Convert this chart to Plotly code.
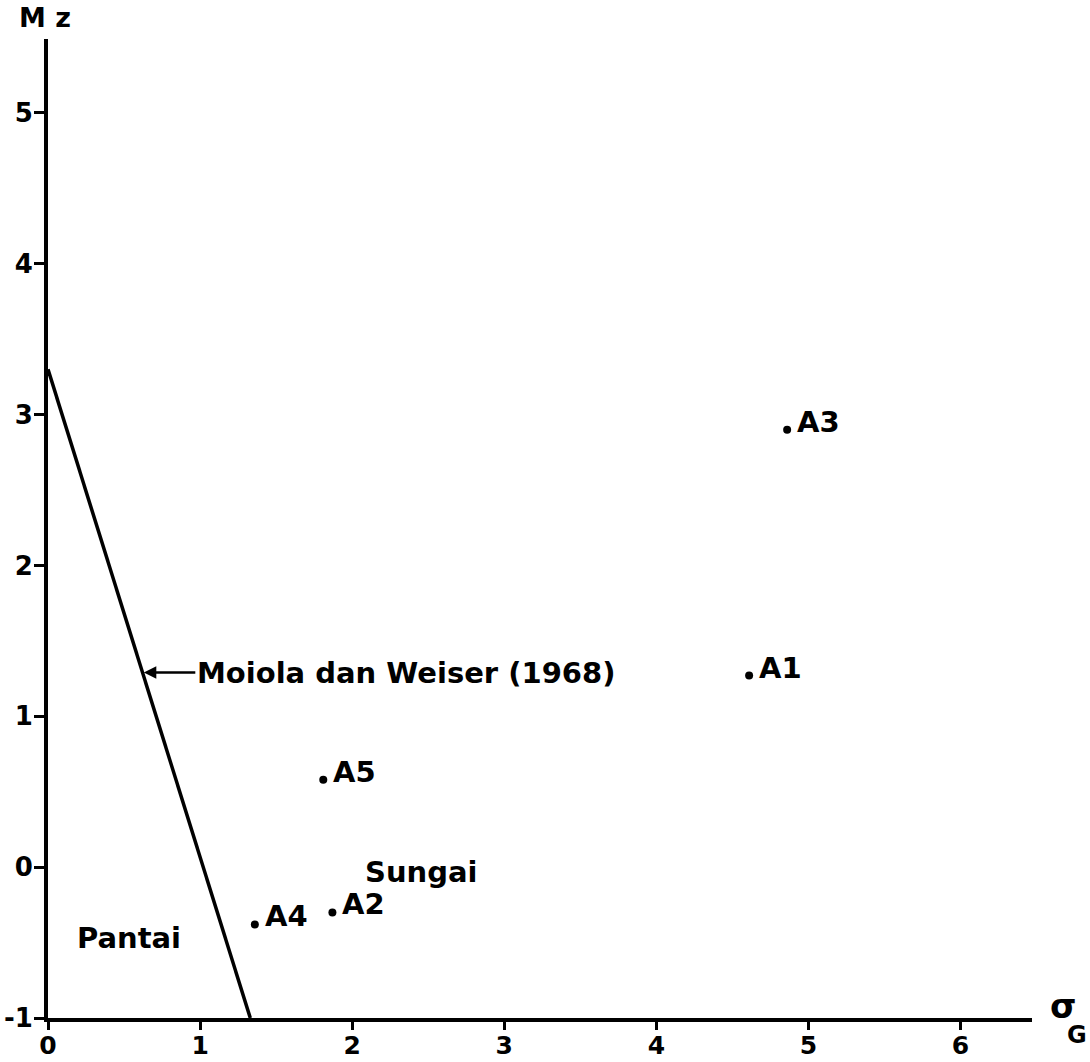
import plotly.graph_objects as go

# Data
sample_names = ["A1", "A2", "A3", "A4", "A5"]
sigma_g = [4.61, 1.87, 4.86, 1.36, 1.81]
mz = [1.27, -0.30, 2.90, -0.38, 0.58]

# Moiola & Weiser (1968) boundary line
boundary_x = [0.0, 1.33]
boundary_y = [3.30, -1.0]

x_ticks = [0, 1, 2, 3, 4, 5, 6]
x_tick_labels = ["0", "1", "2", "3", "4", "5", "6"]
y_ticks = [-1, 0, 1, 2, 3, 4, 5]
y_tick_labels = ["-1", "0", "1", "2", "3", "4", "5"]

FONT = "DejaVu Sans"
FS = 29

fig = go.Figure()
fig.add_trace(go.Scatter(x=boundary_x, y=boundary_y, mode="lines",
                         line=dict(color="black", width=3.5), showlegend=False,
                         cliponaxis=False))
fig.add_trace(go.Scatter(x=sigma_g, y=mz, mode="markers",
                         marker=dict(color="black", size=8), showlegend=False))

for name, xv, yv in zip(sample_names, sigma_g, mz):
    fig.add_annotation(x=xv, y=yv, text=name, showarrow=False, xanchor="left",
                       yanchor="middle", xshift=8, yshift=8,
                       font=dict(family=FONT, size=FS, color="black", weight="bold"))

fig.add_annotation(x=2.45, y=-0.03, text="Sungai", showarrow=False,
                   font=dict(family=FONT, size=FS, color="black", weight="bold"))
fig.add_annotation(x=0.53, y=-0.47, text="Pantai", showarrow=False,
                   font=dict(family=FONT, size=FS, color="black", weight="bold"))
fig.add_annotation(x=0.63, y=1.29, text="Moiola dan Weiser (1968)", showarrow=True,
                   ax=262, ay=0, arrowhead=2, arrowsize=1, arrowwidth=2.5,
                   arrowcolor="black", xanchor="center",
                   font=dict(family=FONT, size=FS, color="black", weight="bold"))

# axis titles
fig.add_annotation(x=0, y=1.0, xref="paper", yref="paper", text="M z", showarrow=False,
                   xanchor="center", yanchor="bottom", yshift=4, xshift=-3,
                   font=dict(family=FONT, size=27, color="black", weight="bold"))
fig.add_annotation(x=1.0, y=0.0, xref="paper", yref="paper", text="σ",
                   showarrow=False, xanchor="left", yanchor="middle", xshift=16, yshift=12,
                   font=dict(family=FONT, size=34, color="black", weight="bold"))
fig.add_annotation(x=1.0, y=0.0, xref="paper", yref="paper", text="G",
                   showarrow=False, xanchor="left", yanchor="middle", xshift=33, yshift=-17,
                   font=dict(family=FONT, size=24, color="black", weight="bold"))

fig.update_layout(
    width=1090, height=1062,
    margin=dict(l=48, r=58, t=39, b=44),
    paper_bgcolor="white", plot_bgcolor="white",
    xaxis=dict(range=[0, 6.47], tickvals=x_ticks, ticktext=x_tick_labels,
               ticks="outside", ticklen=8,
               tickwidth=3, tickcolor="black", showline=True, linewidth=4,
               linecolor="black", showgrid=False, zeroline=False, automargin=False,
               ticklabelstandoff=-6,
               tickfont=dict(family=FONT, size=25, color="black", weight="bold")),
    yaxis=dict(range=[-1, 5.49], tickvals=y_ticks, ticktext=y_tick_labels,
               ticks="outside", ticklen=10,
               tickwidth=3, tickcolor="black", showline=True, linewidth=4,
               linecolor="black", showgrid=False, zeroline=False, automargin=False,
               ticklabelstandoff=-4,
               tickfont=dict(family=FONT, size=26, color="black", weight="bold")),
)

fig.write_html("out.html", config={"displayModeBar": False},
               post_script="document.body.style.margin='0';")
